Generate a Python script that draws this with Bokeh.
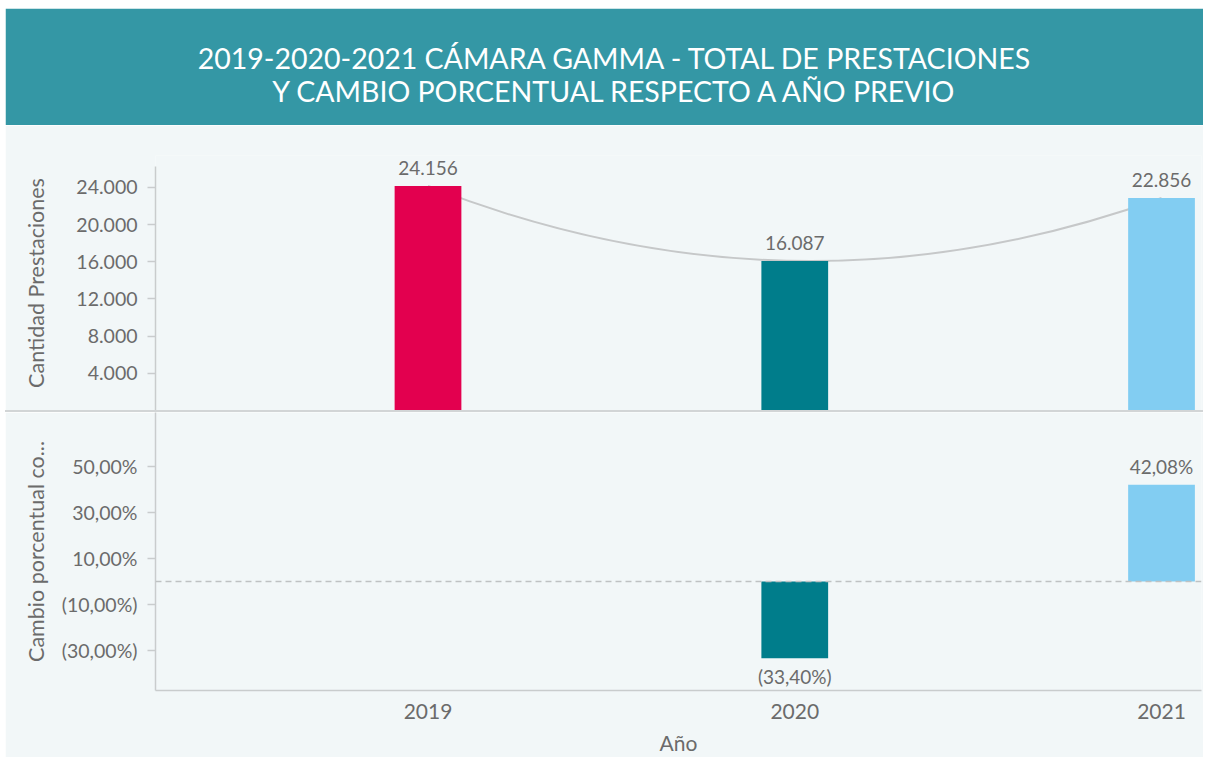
from bokeh.plotting import figure
from bokeh.layouts import column
from bokeh.models import Range1d, FixedTicker, Span, Spacer, LabelSet, ColumnDataSource
from bokeh.core.properties import value
from bokeh.embed import file_html
from bokeh.resources import INLINE

# ---------------- data ----------------
title_lines = ["2019-2020-2021 CÁMARA GAMMA - TOTAL DE PRESTACIONES",
               "Y CAMBIO PORCENTUAL RESPECTO A AÑO PREVIO"]
years = [2019, 2020, 2021]
prestaciones = [24156, 16087, 22856]
bar_colors = ["#e3004f", "#007d8b", "#82cdf2"]
pct_years = [2020, 2021]
pct_change = [-0.3340, 0.4208]
pct_colors = ["#007d8b", "#82cdf2"]
count_ticks = [4000, 8000, 12000, 16000, 20000, 24000]
count_tick_labels = ["4.000", "8.000", "12.000", "16.000", "20.000", "24.000"]
pct_ticks = [-0.3, -0.1, 0.1, 0.3, 0.5]
pct_tick_labels = ["(30,00%)", "(10,00%)", "10,00%", "30,00%", "50,00%"]
y1_title = "Cantidad Prestaciones"
y2_title = "Cambio porcentual co..."
x_title = "Año"


def fmt_int(v):
    return f"{v:,}".replace(",", ".")


def fmt_pct(v):
    s = f"{abs(v) * 100:.2f}".replace(".", ",") + "%"
    return f"({s})" if v < 0 else s


# ---------------- style ----------------
W = 1198
LEFT = 150
TEAL = "#3497a5"
BG = "#f2f7f8"
TXT = "#6b6b6b"
AX = "#c9cccd"
FONT = "Lato"

xr = Range1d(2018.257, 2021.109)

# ---------------- banner ----------------
banner = figure(width=W, height=117, x_range=Range1d(0, 1), y_range=Range1d(115, 2),
                toolbar_location=None, output_backend="svg",
                min_border_left=LEFT, min_border_right=2, min_border_top=2,
                min_border_bottom=2, x_axis_type=None, y_axis_type=None)
banner.grid.visible = False
banner.background_fill_color = TEAL
banner.border_fill_color = TEAL
banner.outline_line_color = TEAL
banner.outline_line_width = 3
banner.text(x=[0.44, 0.44], y=[49, 82], text=title_lines, text_align="center",
            text_baseline="middle", text_color="white", text_font=value(FONT),
            text_font_size="28.5px")


def style_yaxis(p, standoff):
    ax = p.yaxis[0]
    ax.axis_line_color = AX
    ax.axis_line_width = 1.5
    ax.major_tick_line_color = AX
    ax.major_tick_line_width = 1.5
    ax.major_tick_out = 8
    ax.major_tick_in = 0
    ax.minor_tick_line_color = None
    ax.major_label_text_font = FONT
    ax.major_label_text_font_size = "19.5px"
    ax.major_label_text_color = TXT
    ax.major_label_standoff = 10
    ax.axis_label_text_font = FONT
    ax.axis_label_text_font_size = "21.5px"
    ax.axis_label_text_font_style = "normal"
    ax.axis_label_text_color = TXT
    ax.axis_label_standoff = standoff


# ---------------- top panel ----------------
top = figure(width=W, height=285, x_range=xr, y_range=Range1d(0, 27430),
             toolbar_location=None, output_backend="svg", x_axis_type=None,
             min_border_left=LEFT, min_border_right=0, min_border_top=30,
             min_border_bottom=0)
top.grid.visible = False
top.background_fill_color = BG
top.border_fill_color = BG
top.outline_line_color = None
top.yaxis.ticker = FixedTicker(ticks=count_ticks)
top.yaxis.major_label_overrides = dict(zip(count_ticks, count_tick_labels))
top.yaxis.bounds = (0, 26250)
top.yaxis.axis_label = y1_title
style_yaxis(top, 24)

cy = 2 * prestaciones[1] - 0.5 * (prestaciones[0] + prestaciones[2])
cx = 2 * years[1] - 0.5 * (years[0] + years[2])
top.quadratic(x0=[years[0]], y0=[prestaciones[0]], x1=[years[2]], y1=[prestaciones[2]],
              cx=[cx], cy=[cy], line_color="#c6c8c9", line_width=2)
top.vbar(x=years, top=prestaciones, bottom=0, width=0.182, fill_color=bar_colors,
         line_color=None)
top_src = ColumnDataSource(dict(x=years, y=prestaciones,
                                t=[fmt_int(v) for v in prestaciones]))
top.add_layout(LabelSet(x="x", y="y", text="t", source=top_src, y_offset=11,
                        text_align="center", text_baseline="bottom",
                        text_font=value(FONT), text_font_size="19px", text_color=TXT))

sep = Spacer(width=W, height=2, styles={"background-color": "#d2d5d6"})

# ---------------- bottom panel ----------------
bot = figure(width=W, height=345, x_range=xr, y_range=Range1d(-0.474, 0.735),
             toolbar_location=None, output_backend="svg",
             min_border_left=LEFT, min_border_right=0, min_border_top=0,
             min_border_bottom=67)
bot.grid.visible = False
bot.background_fill_color = BG
bot.border_fill_color = BG
bot.outline_line_color = None
bot.yaxis.ticker = FixedTicker(ticks=pct_ticks)
bot.yaxis.major_label_overrides = dict(zip(pct_ticks, pct_tick_labels))
bot.yaxis.axis_label = y2_title
style_yaxis(bot, 10)

xa = bot.xaxis[0]
xa.ticker = FixedTicker(ticks=years)
xa.axis_line_color = AX
xa.axis_line_width = 1.5
xa.major_tick_line_color = None
xa.minor_tick_line_color = None
xa.major_tick_out = 0
xa.major_tick_in = 0
xa.major_label_standoff = 13
xa.major_label_text_font = FONT
xa.major_label_text_font_size = "21px"
xa.major_label_text_color = TXT
xa.axis_label = x_title
xa.axis_label_standoff = 8
xa.axis_label_text_font = FONT
xa.axis_label_text_font_size = "21px"
xa.axis_label_text_font_style = "normal"
xa.axis_label_text_color = TXT

bot.vbar(x=pct_years, top=pct_change, bottom=0, width=0.182, fill_color=pct_colors,
         line_color=None)
bot.add_layout(Span(location=0, dimension="width", line_color="#bfc2c3",
                    line_dash="6 4", line_width=1.5))
pos_src = ColumnDataSource(dict(
    x=[x for x, v in zip(pct_years, pct_change) if v >= 0],
    y=[v for v in pct_change if v >= 0],
    t=[fmt_pct(v) for v in pct_change if v >= 0]))
neg_src = ColumnDataSource(dict(
    x=[x for x, v in zip(pct_years, pct_change) if v < 0],
    y=[v for v in pct_change if v < 0],
    t=[fmt_pct(v) for v in pct_change if v < 0]))
bot.add_layout(LabelSet(x="x", y="y", text="t", source=pos_src, y_offset=7,
                        text_align="center", text_baseline="bottom",
                        text_font=value(FONT), text_font_size="19px", text_color=TXT))
bot.add_layout(LabelSet(x="x", y="y", text="t", source=neg_src, y_offset=-7,
                        text_align="center", text_baseline="top",
                        text_font=value(FONT), text_font_size="19px", text_color=TXT))

layout = column(banner, top, sep, bot, spacing=0, margin=(8, 0, 0, 5))
open("out.html", "w").write(file_html(layout, INLINE))
